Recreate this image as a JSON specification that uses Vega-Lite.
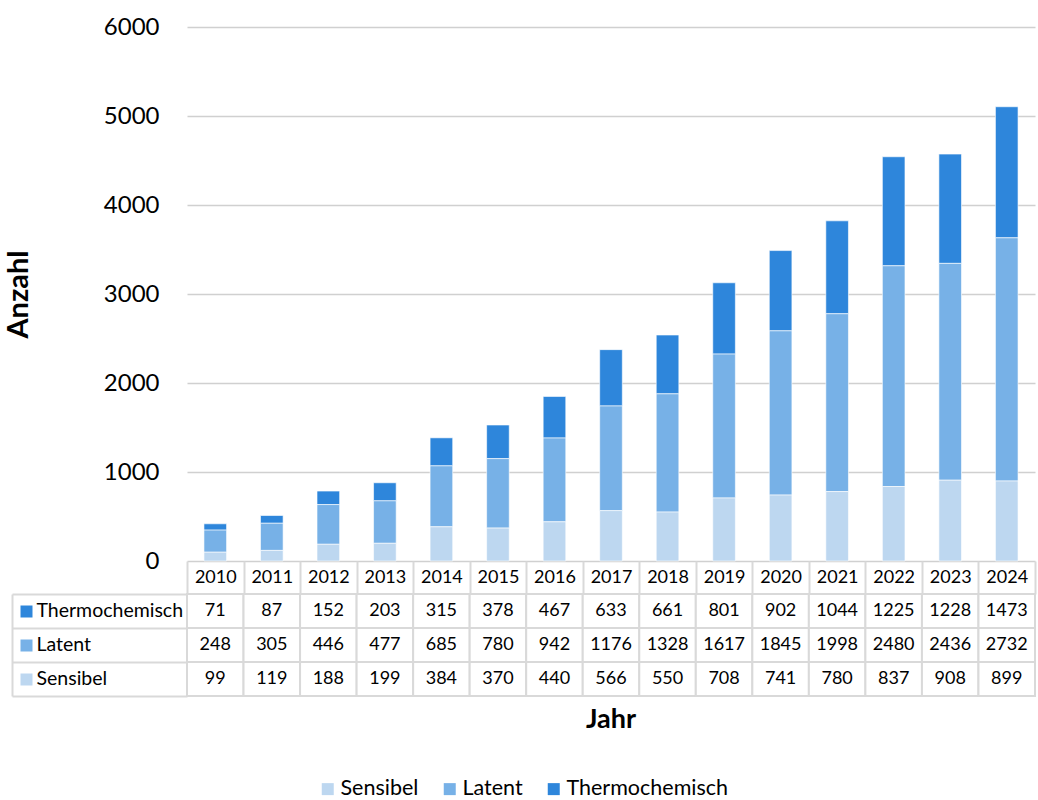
{
  "$schema": "https://vega.github.io/schema/vega-lite/v6.json",
  "padding": {"left": 4, "top": 15, "right": 2, "bottom": 5},
  "background": "white",
  "config": {"font": "Lato", "view": {"stroke": null}},
  "datasets": {
    "d": [
      {"year": "2010", "type": "Thermochemisch", "stack": 3, "value": 71},
      {"year": "2011", "type": "Thermochemisch", "stack": 3, "value": 87},
      {"year": "2012", "type": "Thermochemisch", "stack": 3, "value": 152},
      {"year": "2013", "type": "Thermochemisch", "stack": 3, "value": 203},
      {"year": "2014", "type": "Thermochemisch", "stack": 3, "value": 315},
      {"year": "2015", "type": "Thermochemisch", "stack": 3, "value": 378},
      {"year": "2016", "type": "Thermochemisch", "stack": 3, "value": 467},
      {"year": "2017", "type": "Thermochemisch", "stack": 3, "value": 633},
      {"year": "2018", "type": "Thermochemisch", "stack": 3, "value": 661},
      {"year": "2019", "type": "Thermochemisch", "stack": 3, "value": 801},
      {"year": "2020", "type": "Thermochemisch", "stack": 3, "value": 902},
      {"year": "2021", "type": "Thermochemisch", "stack": 3, "value": 1044},
      {"year": "2022", "type": "Thermochemisch", "stack": 3, "value": 1225},
      {"year": "2023", "type": "Thermochemisch", "stack": 3, "value": 1228},
      {"year": "2024", "type": "Thermochemisch", "stack": 3, "value": 1473},
      {"year": "2010", "type": "Latent", "stack": 2, "value": 248},
      {"year": "2011", "type": "Latent", "stack": 2, "value": 305},
      {"year": "2012", "type": "Latent", "stack": 2, "value": 446},
      {"year": "2013", "type": "Latent", "stack": 2, "value": 477},
      {"year": "2014", "type": "Latent", "stack": 2, "value": 685},
      {"year": "2015", "type": "Latent", "stack": 2, "value": 780},
      {"year": "2016", "type": "Latent", "stack": 2, "value": 942},
      {"year": "2017", "type": "Latent", "stack": 2, "value": 1176},
      {"year": "2018", "type": "Latent", "stack": 2, "value": 1328},
      {"year": "2019", "type": "Latent", "stack": 2, "value": 1617},
      {"year": "2020", "type": "Latent", "stack": 2, "value": 1845},
      {"year": "2021", "type": "Latent", "stack": 2, "value": 1998},
      {"year": "2022", "type": "Latent", "stack": 2, "value": 2480},
      {"year": "2023", "type": "Latent", "stack": 2, "value": 2436},
      {"year": "2024", "type": "Latent", "stack": 2, "value": 2732},
      {"year": "2010", "type": "Sensibel", "stack": 1, "value": 99},
      {"year": "2011", "type": "Sensibel", "stack": 1, "value": 119},
      {"year": "2012", "type": "Sensibel", "stack": 1, "value": 188},
      {"year": "2013", "type": "Sensibel", "stack": 1, "value": 199},
      {"year": "2014", "type": "Sensibel", "stack": 1, "value": 384},
      {"year": "2015", "type": "Sensibel", "stack": 1, "value": 370},
      {"year": "2016", "type": "Sensibel", "stack": 1, "value": 440},
      {"year": "2017", "type": "Sensibel", "stack": 1, "value": 566},
      {"year": "2018", "type": "Sensibel", "stack": 1, "value": 550},
      {"year": "2019", "type": "Sensibel", "stack": 1, "value": 708},
      {"year": "2020", "type": "Sensibel", "stack": 1, "value": 741},
      {"year": "2021", "type": "Sensibel", "stack": 1, "value": 780},
      {"year": "2022", "type": "Sensibel", "stack": 1, "value": 837},
      {"year": "2023", "type": "Sensibel", "stack": 1, "value": 908},
      {"year": "2024", "type": "Sensibel", "stack": 1, "value": 899}
    ]
  },
  "bounds": "flush",
  "spacing": 33,
  "vconcat": [
    {
      "width": 848,
      "height": 534,
      "data": {"name": "d"},
      "mark": {"type": "bar", "stroke": "#ffffff", "strokeWidth": 0.6},
      "encoding": {
        "x": {"field": "year", "type": "nominal", "axis": null,
              "scale": {"paddingInner": 0.6, "paddingOuter": 0.3}},
        "y": {"field": "value", "type": "quantitative", "aggregate": "sum", "stack": "zero",
              "scale": {"domain": [0, 6000]},
              "axis": {"title": "Anzahl", "titleFontSize": 29, "titleFontWeight": "bold", "titleColor": "#000000",
                       "titlePadding": 70, "labelFontSize": 24, "labelColor": "#000000", "labelPadding": 28,
                       "ticks": false, "domain": false, "grid": true, "gridColor": "#d0d0d0", "gridWidth": 1.5,
                       "values": [0, 1000, 2000, 3000, 4000, 5000, 6000], "format": "d"}},
        "color": {"field": "type", "type": "nominal",
                  "sort": ["Sensibel", "Latent", "Thermochemisch"],
                  "scale": {"domain": ["Sensibel", "Latent", "Thermochemisch"],
                            "range": ["#bdd7f0", "#77b1e7", "#2e86db"]},
                  "legend": {"title": null, "orient": "none", "legendX": 130, "legendY": 751,
                             "direction": "horizontal",
                             "symbolType": "square", "symbolSize": 144, "symbolStrokeWidth": 0,
                             "labelFontSize": 21.5, "labelColor": "#000000", "labelOffset": 2,
                             "labelLimit": 400, "columnPadding": 20}},
        "order": {"field": "stack", "type": "quantitative", "sort": "ascending"}
      }
    },
    {
      "width": 848,
      "height": 102,
      "data": {"name": "d"},
      "title": {"text": "Jahr", "orient": "bottom", "fontSize": 27, "fontWeight": "bold", "color": "#000000",
                "offset": 10, "anchor": "middle"},
      "encoding": {
        "x": {"field": "year", "type": "nominal",
              "scale": {"paddingInner": 0, "paddingOuter": 0},
              "axis": {"orient": "top", "title": null, "domain": false, "grid": false,
                       "tickBand": "extent", "tickSize": 33, "tickWidth": 2, "tickColor": "#d9d9d9",
                       "labelPadding": -16.5, "labelBaseline": "middle", "labelFontSize": 18,
                       "labelColor": "#000000", "labelAngle": 0}}
      },
      "layer": [
        {
          "mark": {"type": "rect", "fill": "#ffffff", "stroke": "#d9d9d9", "strokeWidth": 2},
          "encoding": {
            "y": {"field": "type", "type": "nominal",
                  "sort": ["Thermochemisch", "Latent", "Sensibel"],
                  "scale": {"paddingInner": 0, "paddingOuter": 0},
                  "axis": {"orient": "left", "title": null, "offset": 155, "domain": false, "grid": false,
                           "tickSize": 12, "tickWidth": 12,
                           "tickColor": {"condition": [
                             {"test": "datum.value === 'Thermochemisch'", "value": "#2e86db"},
                             {"test": "datum.value === 'Latent'", "value": "#77b1e7"}],
                             "value": "#bdd7f0"},
                           "labelAlign": "left", "labelPadding": -16, "labelFontSize": 19.5,
                           "labelLimit": 300, "labelColor": "#000000", "labelBaseline": "middle"}}
          }
        },
        {
          "mark": {"type": "text", "fontSize": 18, "color": "#000000", "align": "center", "baseline": "middle"},
          "encoding": {
            "y": {"field": "type", "type": "nominal",
                  "sort": ["Thermochemisch", "Latent", "Sensibel"],
                  "axis": {"orient": "left", "title": null, "offset": 175, "labels": false,
                           "domain": true, "domainColor": "#d9d9d9", "domainWidth": 2,
                           "ticks": true, "tickBand": "extent", "tickSize": -175,
                           "tickColor": "#d9d9d9", "tickWidth": 2, "grid": false}},
            "text": {"field": "value", "type": "quantitative", "format": "d"}
          }
        }
      ],
      "resolve": {"axis": {"y": "independent"}}
    }
  ]
}
